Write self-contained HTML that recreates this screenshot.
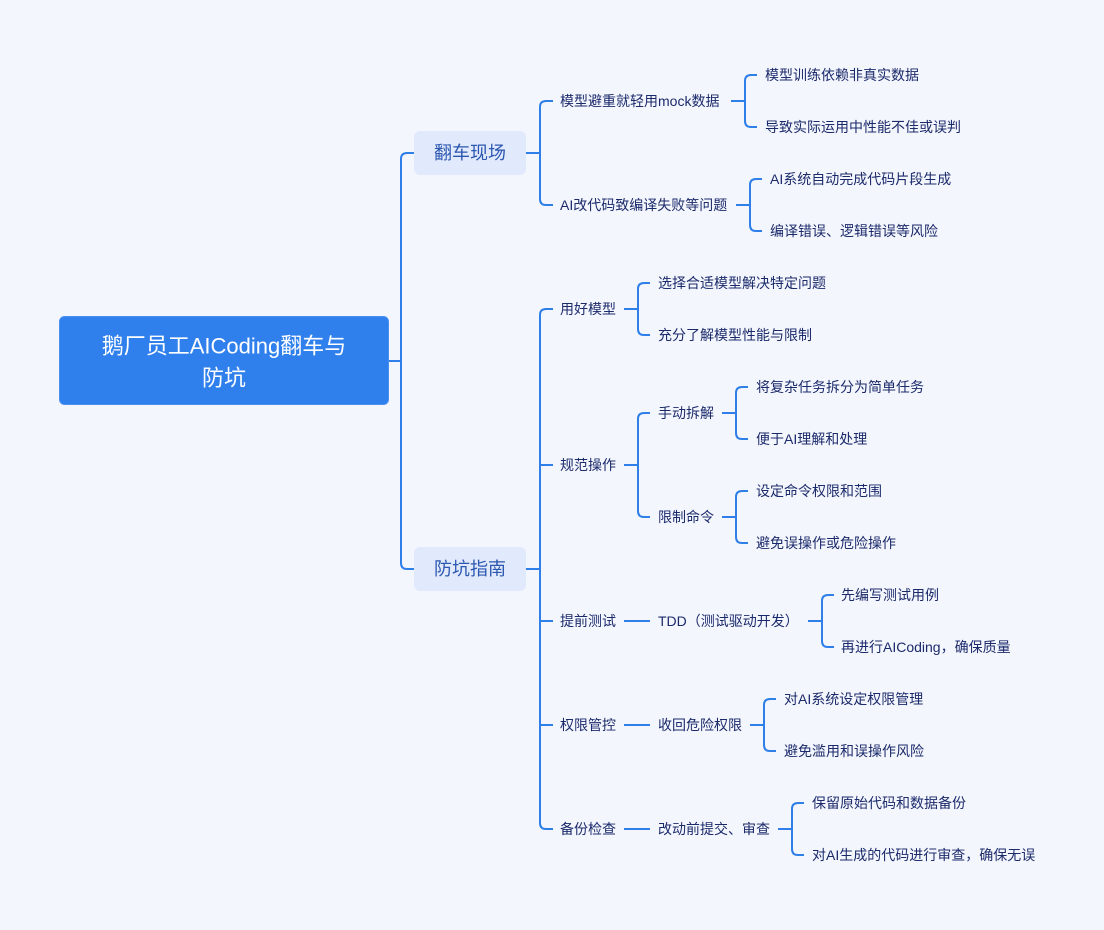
<!DOCTYPE html>
<html><head><meta charset="utf-8"><style>
html,body{margin:0;padding:0;background:#f4f6fd;}
svg{display:block;}
text{font-family:"Liberation Sans","Noto Sans CJK SC",sans-serif;}
.t{font-size:14px;fill:#1b2a6b;dominant-baseline:central;}
.l{fill:none;stroke:#2f7fe8;stroke-width:2;}
</style></head><body>
<svg width="1104" height="930" viewBox="0 0 1104 930" xmlns="http://www.w3.org/2000/svg">
<rect width="1104" height="930" fill="#f4f6fd"/>
<g class="l">
<!-- root -->
<path d="M389 361H401M414 153H407Q401 153 401 159V563Q401 569 407 569H414"/>
<!-- 翻车现场 -->
<path d="M526 153H540M553 101H546Q540 101 540 107V199Q540 205 546 205H553"/>
<path d="M731 101H745M757 75H751Q745 75 745 81V121Q745 127 751 127H757"/>
<path d="M736 205H750M762 179H756Q750 179 750 185V225Q750 231 756 231H762"/>
<!-- 防坑指南 -->
<path d="M526 569H540M553 309H546Q540 309 540 315V823Q540 829 546 829H553M540 465H553M540 621H553M540 725H553"/>
<path d="M624 309H638M650 283H644Q638 283 638 289V329Q638 335 644 335H650"/>
<path d="M624 465H638M650 413H644Q638 413 638 419V511Q638 517 644 517H650"/>
<path d="M722 413H736M748 387H742Q736 387 736 393V433Q736 439 742 439H748"/>
<path d="M722 517H736M748 491H742Q736 491 736 497V537Q736 543 742 543H748"/>
<path d="M624 621H650M808 621H822M834 595H828Q822 595 822 601V641Q822 647 828 647H834"/>
<path d="M624 725H650M750 725H764M776 699H770Q764 699 764 705V745Q764 751 770 751H776"/>
<path d="M624 829H650M778 829H792M804 803H798Q792 803 792 809V849Q792 855 798 855H804"/>
</g>
<rect x="59.5" y="316.5" width="329" height="88" rx="5" fill="#2f80ed" stroke="#4a8ff0"/>
<text x="224" y="346" font-size="22" fill="#fff" text-anchor="middle" dominant-baseline="central">鹅厂员工AICoding翻车与</text>
<text x="224" y="378" font-size="22" fill="#fff" text-anchor="middle" dominant-baseline="central">防坑</text>
<rect x="414" y="131" width="112" height="44" rx="6" fill="#e1e9fc"/>
<text x="470" y="153" font-size="18" fill="#2b57b0" text-anchor="middle" dominant-baseline="central">翻车现场</text>
<rect x="414" y="547" width="112" height="44" rx="6" fill="#e1e9fc"/>
<text x="470" y="569" font-size="18" fill="#2b57b0" text-anchor="middle" dominant-baseline="central">防坑指南</text>

<text class="t" x="560" y="101">模型避重就轻用mock数据</text>
<text class="t" x="765" y="75">模型训练依赖非真实数据</text>
<text class="t" x="765" y="127">导致实际运用中性能不佳或误判</text>
<text class="t" x="560" y="205">AI改代码致编译失败等问题</text>
<text class="t" x="770" y="179">AI系统自动完成代码片段生成</text>
<text class="t" x="770" y="231">编译错误、逻辑错误等风险</text>

<text class="t" x="560" y="309">用好模型</text>
<text class="t" x="658" y="283">选择合适模型解决特定问题</text>
<text class="t" x="658" y="335">充分了解模型性能与限制</text>
<text class="t" x="560" y="465">规范操作</text>
<text class="t" x="658" y="413">手动拆解</text>
<text class="t" x="756" y="387">将复杂任务拆分为简单任务</text>
<text class="t" x="756" y="439">便于AI理解和处理</text>
<text class="t" x="658" y="517">限制命令</text>
<text class="t" x="756" y="491">设定命令权限和范围</text>
<text class="t" x="756" y="543">避免误操作或危险操作</text>
<text class="t" x="560" y="621">提前测试</text>
<text class="t" x="658" y="621">TDD（测试驱动开发）</text>
<text class="t" x="841" y="595">先编写测试用例</text>
<text class="t" x="841" y="647">再进行AICoding，确保质量</text>
<text class="t" x="560" y="725">权限管控</text>
<text class="t" x="658" y="725">收回危险权限</text>
<text class="t" x="784" y="699">对AI系统设定权限管理</text>
<text class="t" x="784" y="751">避免滥用和误操作风险</text>
<text class="t" x="560" y="829">备份检查</text>
<text class="t" x="658" y="829">改动前提交、审查</text>
<text class="t" x="812" y="803">保留原始代码和数据备份</text>
<text class="t" x="812" y="855">对AI生成的代码进行审查，确保无误</text>
</svg>
</body></html>
